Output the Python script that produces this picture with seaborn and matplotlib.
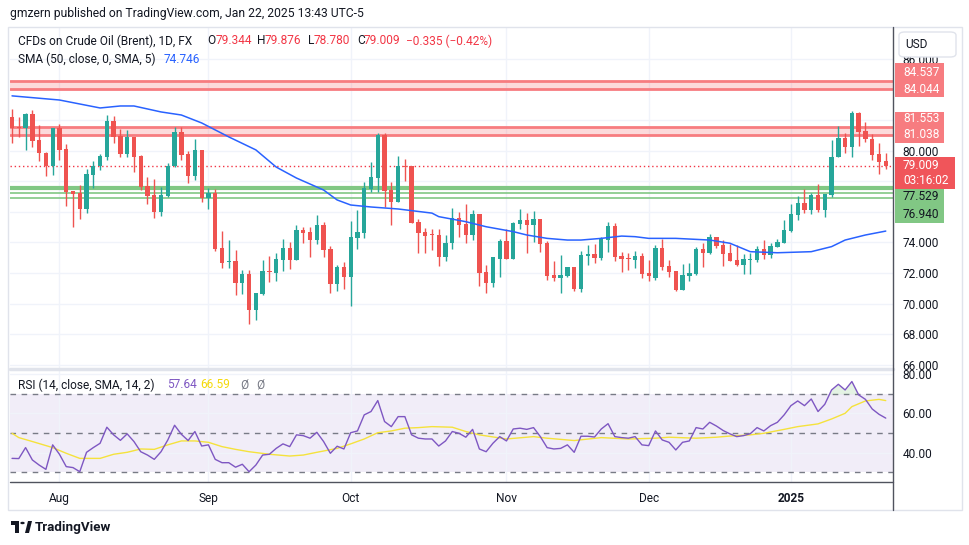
import pandas as pd
import matplotlib.pyplot as plt
import seaborn as sns
import numpy as np
from matplotlib.patches import Rectangle, Polygon, Circle, FancyBboxPatch
from matplotlib.lines import Line2D

# daily bars Jul 23 2024 .. Jan 22 2025 (no Dec 25 / Jan 1)
dates = pd.bdate_range('2024-07-23', '2025-01-22')
dates = dates[~dates.isin(pd.to_datetime(['2024-12-25', '2025-01-01']))]

opens = [82.22, 81.50, 81.46, 82.40, 80.70, 79.87, 79.00, 81.50, 80.11, 77.36,
         77.21, 76.19, 78.41, 79.00, 79.61, 81.94, 80.96, 79.78, 80.89, 79.65,
         77.69, 77.10, 76.01, 77.06, 79.00, 81.24, 79.78, 78.34, 80.04, 76.93,
         77.21, 73.64, 72.75, 72.79, 71.37, 71.96, 69.61, 70.65, 72.15, 72.03,
         72.85, 73.64, 72.85, 74.81, 74.71, 74.16, 75.14, 73.57, 71.29, 72.40,
         71.74, 74.32, 74.64, 77.47, 78.21, 81.02, 77.43, 76.67, 79.00, 78.98,
         75.36, 74.71, 74.49, 74.49, 73.07, 73.94, 75.58, 75.21, 74.49, 75.86,
         72.05, 71.37, 72.92, 74.12, 72.92, 75.21, 75.47, 75.14, 75.53, 73.94,
         71.87, 71.70, 71.81, 72.42, 70.96, 73.12, 73.25, 73.01, 74.16, 75.08,
         73.12, 73.01, 72.85, 73.12, 72.03, 71.66, 73.62, 72.46, 72.14, 70.89,
         71.83, 71.94, 73.57, 73.29, 74.38, 73.83, 73.29, 72.85, 72.53, 72.88,
         72.85, 73.57, 73.18, 73.73, 73.99, 74.75, 75.80, 76.60, 76.12, 77.10,
         76.12, 77.10, 79.56, 80.81, 80.26, 82.44, 81.29, 80.76, 79.78, 79.344]
highs = [82.72, 82.22, 82.44, 82.66, 81.68, 79.93, 81.50, 81.76, 80.44, 77.36,
         77.76, 78.80, 79.32, 79.78, 82.33, 82.27, 81.42, 81.35, 80.92, 79.72,
         78.26, 78.15, 77.60, 79.19, 81.53, 81.53, 79.98, 80.74, 80.04, 77.56,
         77.47, 74.75, 74.16, 73.51, 72.20, 72.20, 70.70, 72.85, 73.14, 73.31,
         74.23, 74.00, 75.14, 75.03, 75.03, 75.80, 75.36, 73.79, 72.53, 72.75,
         75.42, 76.12, 77.97, 79.28, 81.13, 81.13, 77.97, 79.67, 79.46, 79.00,
         75.53, 74.93, 74.88, 74.88, 74.49, 76.23, 75.97, 76.51, 76.12, 75.86,
         72.53, 73.07, 74.23, 74.88, 75.36, 76.17, 75.95, 76.06, 75.53, 74.12,
         72.81, 73.18, 72.37, 72.42, 73.44, 73.83, 73.90, 74.34, 75.34, 75.29,
         73.40, 73.33, 73.44, 73.33, 72.85, 73.83, 74.20, 72.85, 72.14, 72.59,
         72.68, 73.73, 73.99, 74.55, 74.38, 74.16, 73.88, 73.83, 73.25, 73.33,
         73.79, 74.16, 73.94, 74.20, 75.47, 76.51, 77.06, 77.47, 77.21, 77.82,
         77.17, 80.70, 81.61, 81.13, 82.59, 82.53, 81.85, 81.07, 80.48, 79.876]
lows = [80.48, 80.92, 80.04, 80.26, 79.35, 78.34, 78.41, 79.39, 76.38, 75.03,
        75.53, 75.95, 77.58, 78.74, 79.39, 80.52, 79.61, 79.61, 78.63, 77.43,
        76.51, 75.62, 75.73, 76.99, 78.95, 79.39, 77.91, 78.08, 76.67, 76.19,
        73.46, 72.35, 72.35, 70.59, 70.65, 68.65, 68.96, 70.59, 71.44, 71.50,
        72.13, 72.27, 72.85, 73.99, 73.07, 73.90, 73.07, 70.72, 70.83, 70.98,
        69.85, 73.57, 74.27, 77.30, 77.30, 76.34, 75.14, 76.62, 78.04, 75.25,
        73.33, 73.33, 73.51, 72.48, 72.81, 73.55, 74.38, 73.99, 74.16, 71.18,
        70.72, 71.11, 71.76, 72.92, 72.92, 74.88, 73.33, 74.05, 73.40, 71.55,
        71.48, 70.72, 71.76, 70.85, 70.78, 72.53, 72.68, 72.85, 73.40, 72.81,
        72.09, 72.20, 72.31, 71.68, 71.48, 71.55, 72.20, 71.76, 70.83, 70.89,
        71.48, 71.87, 72.42, 73.25, 73.66, 72.46, 72.79, 72.46, 71.96, 71.94,
        72.75, 72.92, 73.01, 73.73, 73.94, 74.71, 75.47, 75.90, 75.86, 76.01,
        75.69, 77.00, 79.56, 79.87, 79.61, 80.33, 80.54, 79.39, 78.45, 78.780]
closes = [81.46, 81.45, 82.40, 80.65, 79.83, 79.00, 81.50, 80.04, 77.32, 77.17,
          76.19, 78.47, 79.00, 79.65, 81.94, 80.92, 79.78, 80.89, 79.61, 77.63,
          77.06, 76.01, 77.10, 79.00, 81.24, 79.72, 78.34, 80.04, 76.93, 77.21,
          73.57, 72.68, 72.82, 71.37, 71.96, 69.61, 70.70, 72.13, 72.10, 72.92,
          73.64, 72.85, 74.81, 74.60, 74.16, 75.14, 73.51, 71.29, 72.40, 71.74,
          74.38, 74.71, 77.56, 78.26, 81.02, 77.36, 76.67, 78.98, 78.95, 75.29,
          74.64, 74.44, 74.47, 73.07, 73.94, 75.58, 75.14, 74.49, 75.86, 72.03,
          71.37, 73.03, 74.12, 72.92, 75.29, 75.47, 75.14, 75.53, 73.90, 71.81,
          71.70, 71.87, 72.37, 70.96, 73.18, 73.25, 73.01, 74.23, 75.08, 73.07,
          72.92, 72.90, 73.12, 71.94, 71.83, 73.62, 72.42, 72.09, 70.89, 71.87,
          72.03, 73.57, 73.29, 74.38, 73.79, 73.25, 72.79, 72.53, 72.92, 72.92,
          73.57, 73.18, 73.77, 74.01, 74.81, 75.86, 76.60, 76.12, 77.10, 76.12,
          77.15, 79.56, 80.81, 80.26, 82.44, 81.24, 80.74, 79.72, 79.28, 79.009]

# SMA(50) at some bars
sma_idx = [0, 7, 13, 16, 18, 22, 25, 28, 32, 36, 39, 42, 46, 48, 50, 53, 57, 62, 63, 67,
           70, 74, 76, 79, 82, 84, 87, 90, 92, 94, 98, 103, 106, 109, 113, 118, 121, 123, 126, 129]
sma_val = [83.58, 83.31, 82.79, 82.92, 82.92, 82.53, 82.33, 81.81, 80.90, 80.05, 78.93, 78.21,
           77.43, 76.78, 76.45, 76.32, 76.19, 75.92, 75.69, 75.36, 75.03, 74.71, 74.49, 74.27,
           74.16, 74.16, 74.27, 74.42, 74.38, 74.27, 74.27, 74.16, 73.95, 73.40, 73.33, 73.40,
           73.73, 74.16, 74.49, 74.746]

rsi = [37.1, 37.0, 42.6, 36.3, 33.7, 31.5, 44.0, 39.2, 32.9, 32.4,
       30.3, 40.2, 42.6, 44.8, 53.0, 49.1, 46.3, 49.6, 45.7, 40.5,
       38.8, 36.6, 40.5, 46.5, 54.0, 49.4, 46.2, 50.8, 43.4, 44.0,
       36.6, 34.9, 34.9, 32.6, 34.1, 30.3, 33.7, 38.8, 39.2, 42.2,
       44.5, 43.1, 49.1, 48.7, 47.4, 50.4, 45.7, 39.7, 43.3, 41.9,
       50.2, 51.1, 59.3, 61.0, 66.6, 55.9, 53.3, 58.4, 58.4, 49.1,
       47.4, 47.0, 47.0, 43.4, 46.0, 50.8, 49.9, 47.9, 51.9, 41.9,
       40.5, 44.8, 48.2, 46.0, 52.1, 52.5, 51.9, 52.8, 48.2, 42.6,
       41.9, 42.2, 44.0, 40.2, 48.4, 48.4, 48.0, 52.1, 54.8, 48.2,
       47.7, 47.4, 48.2, 44.0, 43.6, 51.1, 46.5, 45.3, 41.4, 45.3,
       46.0, 52.8, 52.1, 55.5, 53.6, 51.3, 49.6, 48.2, 48.7, 49.7,
       52.8, 51.1, 53.8, 55.5, 59.3, 64.0, 66.4, 64.0, 67.4, 61.0,
       64.7, 72.0, 74.9, 72.0, 76.3, 69.5, 67.2, 62.3, 59.6, 57.64]
rsi_ma_idx = [0, 1, 3, 6, 8, 10, 13, 15, 17, 19, 21, 23, 25, 27, 29, 31, 33, 35, 38, 41,
              43, 45, 48, 50, 52, 54, 56, 58, 60, 62, 65, 67, 69, 73, 77, 79, 83, 87, 91, 95,
              97, 101, 104, 106, 109, 111, 114, 116, 119, 121, 123, 124, 126, 128, 129]
rsi_ma_val = [49.9, 47.7, 45.7, 42.6, 39.7, 37.1, 37.1, 39.2, 40.2, 41.9, 41.7, 44.0, 46.0,
              46.0, 45.3, 43.1, 41.7, 40.5, 39.2, 38.3, 38.8, 40.2, 42.2, 44.5, 47.0, 50.2,
              51.1, 52.5, 52.8, 53.3, 53.0, 50.8, 49.1, 47.0, 48.2, 47.4, 46.2, 47.7, 47.0,
              47.4, 47.9, 47.4, 47.9, 48.5, 49.1, 49.9, 51.9, 53.3, 54.7, 57.2, 60.1, 63.5,
              66.4, 67.2, 66.59]

red_zones = [(84.044, 84.537), (81.038, 81.553)]
green_levels = [77.529, 77.22, 76.94]
last_price = 79.009
price_ticks = [66, 68, 70, 72, 74, 76, 78, 80, 82, 84, 86]
rsi_ticks = [40, 60, 80]

sns.set_style('white')
plt.rcParams['font.family'] = ['Roboto', 'DejaVu Sans']

W, H = 970, 545
fig = plt.figure(figsize=(9.7, 5.45), dpi=100)
fx = lambda x: x / W
fy = lambda y: 1 - y / H
FS = 8.6

ax = fig.add_axes([fx(10), fy(368), fx(893) - fx(10), fy(27) - fy(368)])
axr = fig.add_axes([fx(10), fy(482), fx(893) - fx(10), fy(369) - fy(482)])

df = pd.DataFrame({'date': dates, 'open': opens, 'high': highs, 'low': lows, 'close': closes})
df['i'] = np.arange(len(df))

GREEN, RED = '#26a69a', '#ef5350'
grid_c = '#f0f3fa'

# month starts
first = df.groupby(df['date'].dt.to_period('M'))['i'].min()
month_pos = list(first.values[1:])
month_lab = [d.strftime('%b') if d.month != 1 else str(d.year) for d in df.loc[month_pos, 'date']]

for a in (ax, axr):
    a.set_xticks(month_pos)
    a.grid(True, color=grid_c, lw=1)
    a.set_axisbelow(True)
    for s in a.spines.values():
        s.set_visible(False)

# price pane
for lo, hi in red_zones:
    ax.axhspan(lo, hi, color='#f77c80', alpha=0.28, lw=0, zorder=1)
    ax.axhline(lo, color='#f77c80', lw=2, zorder=1.5)
    ax.axhline(hi, color='#f77c80', lw=2, zorder=1.5)
ax.axhline(green_levels[0], color='#81c784', lw=3, zorder=1.5)
for g in green_levels[1:]:
    ax.axhline(g, color='#81c784', lw=1.2, zorder=1.5)

cols = np.where(df['close'] >= df['open'], GREEN, RED)
ax.vlines(df['i'], df['low'], df['high'], colors=cols, lw=1, zorder=3)
body = (df['close'] - df['open']).abs().clip(lower=0.07)
ax.bar(df['i'], body, bottom=df[['open', 'close']].min(axis=1), width=0.64,
       color=cols, linewidth=0, zorder=3)

ax.axhline(last_price, color='#f23645', lw=1, ls=(0, (1, 2)), zorder=2)
sns.lineplot(x=sma_idx, y=sma_val, ax=ax, color='#2962ff', lw=1.1, zorder=4)

ax.set_xlim(-0.3, 130.07)
ax.set_ylim(65.80, 88.08)
ax.set_yticks(price_ticks)
ax.set_yticklabels(['%.3f' % p if p <= 80 or p == 86 else '' for p in price_ticks])
ax.yaxis.tick_right()
ax.tick_params(axis='y', length=0, pad=7, labelsize=FS, colors='#131722')
ax.tick_params(axis='x', length=0, labelbottom=False)
ax.set_xlabel('')
ax.set_ylabel('')

# RSI pane
axr.axhspan(30, 70, color='#7e57c2', alpha=0.1, lw=0, zorder=0)
for lv in (70, 50, 30):
    axr.axhline(lv, color='#787b86', lw=1, ls=(0, (4, 4)), zorder=1)
r = np.array(rsi)
axr.fill_between(df['i'], r, 70, where=r > 70, interpolate=True, color='#4caf50', alpha=0.15, lw=0)
sns.lineplot(x=df['i'], y=rsi, ax=axr, color='#7e57c2', lw=1, zorder=3)
sns.lineplot(x=rsi_ma_idx, y=rsi_ma_val, ax=axr, color='#f5e23c', lw=1, zorder=2)
axr.set_xlim(-0.3, 130.07)
axr.set_ylim(25.05, 82.70)
axr.set_yticks(rsi_ticks)
axr.set_yticklabels(['%.2f' % v for v in rsi_ticks])
axr.yaxis.tick_right()
axr.tick_params(axis='y', length=0, pad=7, labelsize=FS, colors='#131722')
axr.set_xticklabels(month_lab)
axr.tick_params(axis='x', length=0, pad=7, labelsize=FS, colors='#131722')
for lbl in axr.get_xticklabels():
    if lbl.get_text() == '2025':
        lbl.set_fontweight('bold')
axr.set_xlabel('')
axr.set_ylabel('')

# frame and separators
fig.patches.append(Rectangle((fx(8), fy(510)), fx(962) - fx(8), fy(27) - fy(510),
                             transform=fig.transFigure, fill=False, ec='#e0e3eb', lw=1))
fig.lines.append(Line2D([fx(10), fx(893)], [fy(368.5)] * 2, transform=fig.transFigure,
                        color='#e0e3eb', lw=2.5))
fig.lines.append(Line2D([fx(893.5)] * 2, [fy(27), fy(510)], transform=fig.transFigure,
                        color='#50535e', lw=1))
fig.lines.append(Line2D([fx(10), fx(893.5)], [fy(482)] * 2, transform=fig.transFigure,
                        color='#50535e', lw=1))


def badge(x0, x1, y0, y1, color, lines, tcol):
    fig.patches.append(Rectangle((fx(x0), fy(y1)), fx(x1) - fx(x0), fy(y0) - fy(y1),
                                 transform=fig.transFigure, fc=color, ec='none'))
    for yy, t in lines:
        fig.text(fx(903), fy(yy), t, color=tcol, fontsize=FS, va='center', ha='left')


badge(895, 944, 63, 97, '#f77c80', [(72.5, '84.537'), (89.5, '84.044')], 'white')
badge(895, 944, 112, 143, '#f77c80', [(118.5, '81.553'), (134.5, '81.038')], 'white')
badge(895, 955, 157, 189, '#f0555a', [(165.5, '79.009'), (181, '03:16:02')], 'white')
badge(895, 944, 189, 223, '#81c784', [(196.5, '77.529'), (214.3, '76.940')], '#131722')

fig.patches.append(FancyBboxPatch((fx(899), fy(57)), fx(956) - fx(899), fy(32) - fy(57),
                                  boxstyle='round,pad=0,rounding_size=0.006',
                                  transform=fig.transFigure, fc='white', ec='#e0e3eb', lw=1))
fig.text(fx(905), fy(44.5), 'USD', fontsize=FS, color='#131722', va='center')

# texts
dark = '#131722'
fig.text(fx(10), fy(13), 'gmzern published on TradingView.com, Jan 22, 2025 13:43 UTC-5',
         fontsize=8.7, color=dark, va='center')
y1 = fy(41)
fig.text(fx(18), y1, 'CFDs on Crude Oil (Brent), 1D, FX', fontsize=FS, color=dark, va='center')
for xl, lab, xv, val in [(207, 'O', 216, '79.344'), (257, 'H', 265, '79.876'),
                         (308, 'L', 314, '78.780'), (357, 'C', 364, '79.009')]:
    fig.text(fx(xl), y1, lab, fontsize=FS, color=dark, va='center')
    fig.text(fx(xv), y1, val, fontsize=FS, color='#f23645', va='center')
fig.text(fx(406), y1, '\u22120.335 (\u22120.42%)', fontsize=FS, color='#f23645', va='center')
fig.text(fx(18), fy(59), 'SMA (50, close, 0, SMA, 5)', fontsize=FS, color=dark, va='center')
fig.text(fx(164), fy(59), '74.746', fontsize=FS, color='#2962ff', va='center')

yr = fy(385)
fig.text(fx(18), yr, 'RSI (14, close, SMA, 14, 2)', fontsize=FS, color=dark, va='center')
fig.text(fx(167), yr, '57.64', fontsize=FS, color='#7e57c2', va='center')
fig.text(fx(200), yr, '66.59', fontsize=FS, color='#f5d90a', va='center')
fig.text(fx(240), yr, '\u00d8', fontsize=FS, color='#787b86', va='center')
fig.text(fx(256), yr, '\u00d8', fontsize=FS, color='#787b86', va='center')

# TradingView logo
k = '#131722'
fig.patches.append(Rectangle((fx(11), fy(525)), fx(19) - fx(11), fy(521) - fy(525),
                             transform=fig.transFigure, fc=k, ec='none'))
fig.patches.append(Rectangle((fx(15), fy(533)), fx(19) - fx(15), fy(521) - fy(533),
                             transform=fig.transFigure, fc=k, ec='none'))
fig.patches.append(Circle((fx(22.5), fy(523)), 2.2 / W, transform=fig.transFigure, fc=k, ec='none'))
fig.patches.append(Polygon([(fx(25), fy(533)), (fx(28), fy(521)), (fx(32), fy(521)), (fx(29), fy(533))],
                           closed=True, transform=fig.transFigure, fc=k, ec='none'))
fig.text(fx(35), fy(527), 'TradingView', fontsize=9.6, color=k, va='center', fontweight='semibold')

fig.savefig('out.png', dpi=100, facecolor='white')
